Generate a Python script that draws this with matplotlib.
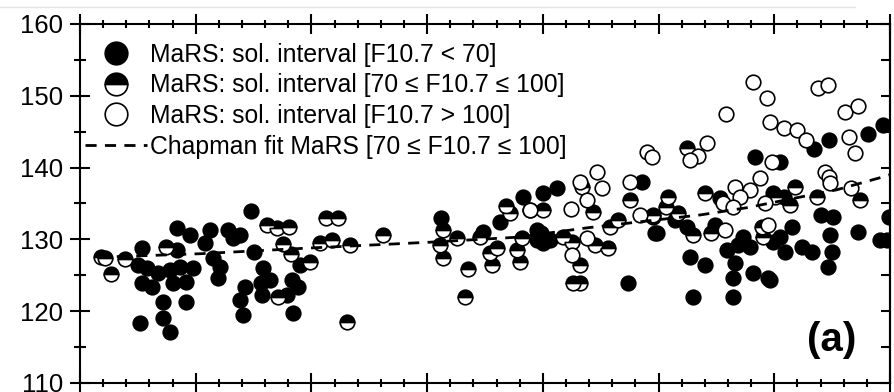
import numpy as np
import matplotlib
matplotlib.use("Agg")
import matplotlib.pyplot as plt
from matplotlib.lines import Line2D
from matplotlib.ticker import MultipleLocator, NullFormatter

plt.rcParams['font.family'] = ['Liberation Sans', 'DejaVu Sans']

# F10.7 < 70 (filled)
low_x = [5.4, 5.0, 5.8, 5.4, 6.2, 6.7, 8.4, 9.5, 8.4, 7.8, 8.6, 9.8, 8.0, 9.2, 7.2, 9.2,
         5.2, 7.2, 7.8, 10.8, 11.2, 12.8, 13.2, 11.5, 12.1, 11.9, 14.8, 13.8, 15.0, 15.8,
         16.4, 15.6, 14.3, 13.8, 14.1, 15.7, 19.0, 18.3, 18.8, 17.9, 18.4,
         31.2, 34.8, 36.3, 38.3, 39.5, 40.0, 41.2, 39.8, 40.0, 40.6, 39.5, 47.4, 48.6,
         49.5, 49.7, 55.3, 51.4, 52.5, 54.9, 49.9, 57.3, 57.9, 56.9, 59.9, 52.7, 54.0,
         55.9, 56.6, 56.4, 58.2, 59.5, 53.0, 56.4, 58.3, 63.4, 64.7, 68.1, 69.4, 60.5,
         60.8, 59.9, 64.0, 65.1, 64.8, 65.0, 64.6, 67.2, 69.1, 69.7, 69.9, 61.5, 60.5,
         60.9, 62.4, 63.3, 59.6]
low_y = [128.8, 126.4, 126.0, 123.9, 123.4, 125.3, 131.6, 130.6, 128.5, 125.7, 126.1, 126.0,
         123.9, 124.1, 121.3, 121.3, 118.3, 119.0, 117.1, 129.5, 131.3, 131.3, 130.2, 127.4,
         126.1, 124.6, 133.9, 130.6, 128.2, 126.0, 124.3, 123.9, 123.4, 121.5, 119.5, 122.2,
         126.4, 124.3, 123.4, 122.2, 119.8,
         133.0, 131.0, 132.4, 135.9, 131.3, 136.5, 137.2, 130.9, 129.5, 129.9, 129.9, 123.9,
         138.0, 133.1, 130.9, 135.8, 132.7, 131.7, 132.0, 130.9, 130.3, 128.9, 129.2, 129.6,
         127.5, 126.4, 128.5, 126.7, 124.6, 125.3, 124.6, 122.0, 122.0, 141.5, 142.6, 143.8,
         144.7, 145.9, 140.8, 135.9, 136.5, 133.4, 133.1, 130.6, 128.2, 126.1, 131.0, 129.9,
         129.9, 133.1, 131.7, 130.3, 128.2, 128.9, 128.2, 124.3]

# 70 <= F10.7 <= 100 (half filled)
mid_x = [1.8, 2.2, 2.7, 3.9, 7.4, 16.2, 17.0, 18.1, 17.5, 18.2, 19.9, 17.1, 20.7, 21.3, 22.3,
         21.8, 23.3, 26.2, 23.1, 31.1, 31.4, 32.6, 31.4, 33.5, 33.3, 34.6, 36.8, 37.2, 38.9,
         35.4, 36.0, 35.6, 37.8, 38.0, 38.2, 40.0, 43.4, 44.3, 41.7, 42.5, 44.5, 45.6, 43.2,
         43.2, 42.6, 47.5, 45.8, 46.5, 52.5, 54.0, 50.8, 50.6, 49.5, 51.7, 53.0, 54.5, 58.9,
         59.0, 60.1, 61.8, 61.4, 67.4, 63.7]
mid_y = [127.6, 127.4, 125.2, 127.3, 128.9, 132.0, 131.6, 131.7, 129.3, 128.0, 126.8, 122.0,
         129.5, 133.0, 133.0, 129.9, 129.2, 130.6, 118.5, 129.2, 131.3, 130.2, 127.4, 125.9,
         122.0, 130.3, 134.6, 133.7, 134.1, 128.1, 128.8, 126.4, 128.5, 126.8, 130.2, 134.1,
         137.3, 133.8, 130.3, 129.6, 129.2, 128.8, 126.4, 123.9, 123.9, 135.5, 131.7, 132.7,
         142.7, 136.4, 135.9, 134.5, 133.4, 133.7, 130.6, 130.9, 131.7, 130.3, 135.9, 137.3,
         134.8, 135.5, 135.9]

# F10.7 > 100 (open)
high_x = [38.9, 43.2, 44.7, 45.1, 43.8, 42.4, 49.0, 49.4, 47.5, 48.4, 43.8, 42.5, 58.2, 59.4,
          55.8, 59.6, 54.2, 53.4, 52.7, 59.8, 58.8, 57.9, 56.6, 57.0, 55.6, 56.4, 59.2, 55.7,
          59.5, 63.8, 64.6, 66.1, 67.2, 60.8, 62.0, 62.7, 66.5, 67.0, 64.4, 64.7, 64.8, 66.6]
high_y = [134.1, 138.0, 139.4, 137.2, 135.5, 134.2, 142.2, 141.5, 138.0, 133.4, 130.2, 127.8,
          151.9, 149.7, 147.5, 146.3, 143.4, 141.6, 141.0, 140.8, 138.5, 136.9, 137.3, 135.9,
          135.1, 134.5, 135.1, 131.3, 132.0, 151.1, 151.5, 147.7, 148.6, 145.5, 145.2, 143.8,
          144.3, 142.0, 139.4, 138.7, 137.8, 137.2]

# Chapman fit
fit_x = [1.5, 10.4, 19.9, 30.2, 37.8, 43.8, 53.6, 57.6, 65.4, 69.4, 70.0]
fit_y = [127.5, 128.0, 128.8, 129.6, 130.3, 131.6, 133.4, 134.4, 136.9, 138.7, 139.0]

labels = ["MaRS: sol. interval [F10.7 < 70]",
          "MaRS: sol. interval [70 \u2264 F10.7 \u2264 100]",
          "MaRS: sol. interval [F10.7 > 100]",
          "Chapman fit MaRS [70 \u2264 F10.7 \u2264 100]"]


def main():
    fig = plt.figure(figsize=(8.95, 3.92), dpi=100)
    ax = fig.add_axes([0.0894, 0.023, 0.905, 0.916])

    ms = 10.5
    mew = 1.2
    h1, = ax.plot(low_x, low_y, 'o', ms=ms, mfc='black', mec='black', mew=mew,
                  zorder=3, label=labels[0])
    h2, = ax.plot(mid_x, mid_y, 'o', ms=ms, fillstyle='top', mfc='black', mfcalt='white',
                  mec='black', mew=mew, zorder=4, label=labels[1])
    h3, = ax.plot(high_x, high_y, 'o', ms=ms, mfc='white', mec='black', mew=mew,
                  zorder=5, label=labels[2])
    h4, = ax.plot(fit_x, fit_y, '--', color='black', lw=2, dashes=(4, 3), zorder=6,
                  label=labels[3])

    ax.set_xlim(0, 70)
    ax.set_ylim(110, 160)
    ax.xaxis.set_major_locator(MultipleLocator(10))
    ax.xaxis.set_minor_locator(MultipleLocator(2))
    ax.xaxis.set_major_formatter(NullFormatter())
    ax.yaxis.set_major_locator(MultipleLocator(10))
    ax.yaxis.set_minor_locator(MultipleLocator(5))

    for s in ax.spines.values():
        s.set_linewidth(1.5)
    ax.tick_params(axis='x', which='both', direction='inout', top=True, bottom=True,
                   width=1.5)
    ax.tick_params(axis='x', which='major', length=14)
    ax.tick_params(axis='x', which='minor', length=6)
    ax.tick_params(axis='y', which='both', direction='inout', right=False, width=1.5,
                   labelsize=18.5, pad=5)
    ax.tick_params(axis='y', which='major', length=14)
    ax.tick_params(axis='y', which='minor', length=9)

    sec = ax.secondary_yaxis('right')
    sec.yaxis.set_major_locator(MultipleLocator(5))
    sec.yaxis.set_major_formatter(NullFormatter())
    sec.tick_params(direction='in', length=6.5, width=1.5)
    sec.spines['right'].set_linewidth(1.5)

    ax.legend(handles=[h1, h2, h3, h4], loc='upper left', bbox_to_anchor=(0.006, 0.948),
              frameon=False, fontsize=17.8, markerscale=1.55, handlelength=2.5,
              handletextpad=0.15, labelspacing=0.27, borderpad=0, borderaxespad=0)

    ax.text(0.928, 0.12, "(a)", transform=ax.transAxes, fontsize=29, fontweight='bold',
            ha='center', va='center')

    fig.add_artist(Line2D([0.0, 0.955], [0.982, 0.982], color='#e4e4e4', lw=1))

    fig.savefig("out.png", dpi=100)


if __name__ == "__main__":
    main()
